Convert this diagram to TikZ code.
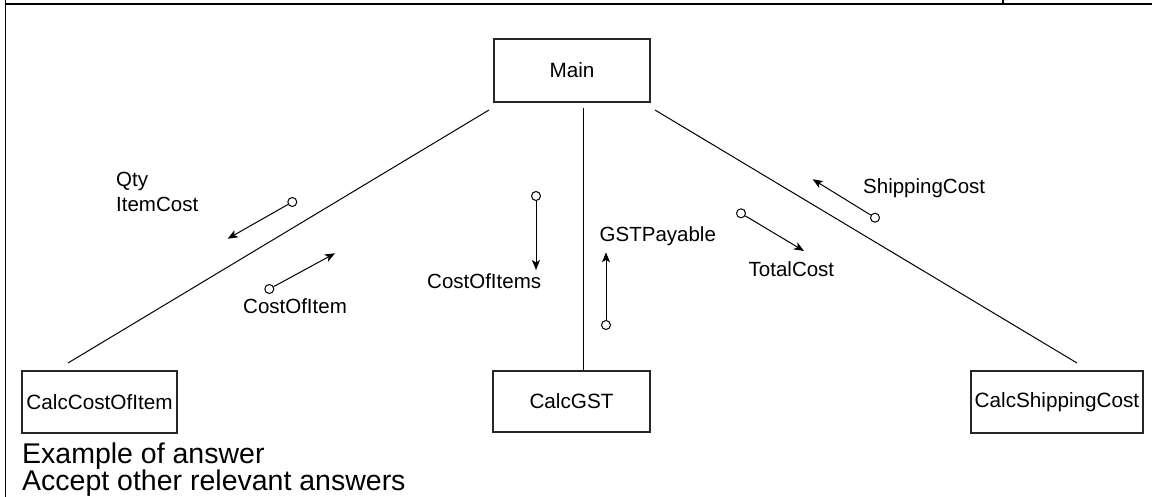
\documentclass[tikz,border=0pt]{standalone}
\usepackage{fontspec}
\setmainfont{Liberation Sans}
\usetikzlibrary{arrows.meta}
\begin{document}
\begin{tikzpicture}[x=1pt,y=-1pt,
  txt/.style={font=\fontsize{20.5}{24.5}\selectfont, inner sep=0pt},
  modbox/.style={draw=black!85, line width=1.2pt, inner sep=0pt,
    font=\fontsize{20.7}{24}\selectfont},
  link/.style={line width=1pt, black},
  dot/.style={circle, draw=black, line width=1pt, fill=white,
    minimum size=9pt, inner sep=0pt},
  flow/.style={line width=1pt, -{Stealth[length=10pt,width=8pt,inset=2.5pt]}},
  caption/.style={font=\fontsize{28.5}{30}\selectfont, inner sep=0pt},
  frame/.style={line width=1.6pt, black}]
\useasboundingbox (0,0) rectangle (1152,497);

% table cell rules
\draw[frame] (5.5,4) -- (1152,4);
\draw[frame] (5.5,0) -- (5.5,497);
\draw[frame] (1003,0) -- (1003,4);

% modules
\node[modbox, minimum width=156pt, minimum height=63pt] (main) at (572,70.5) {Main};
\node[modbox, minimum width=155pt, minimum height=62pt] (cci) at (99.5,402) {CalcCostOfItem};
\node[modbox, minimum width=157pt, minimum height=61pt] (gst) at (571.5,401.5) {CalcGST};
\node[modbox, minimum width=172pt, minimum height=62pt] (csc) at (1057,402) {CalcShippingCost};

% call lines
\coordinate (mL) at (489,110);
\coordinate (cL) at (68,363);
\coordinate (mM) at (583,108);
\coordinate (cM) at (583,370.5);
\coordinate (mR) at (655,110);
\coordinate (cR) at (1077,363);
\draw[link] (mL) -- (cL);
\draw[link] (mM) -- (cM);
\draw[link] (mR) -- (cR);

% data couples
\node[dot] (d1) at (292.3,202) {};
\coordinate (t1) at (227.7,238.7);
\draw[flow] (d1) -- (t1);
\node[dot] (d2) at (269.3,289) {};
\coordinate (t2) at (335,253.3);
\draw[flow] (d2) -- (t2);
\node[dot] (d3) at (536,196) {};
\coordinate (t3) at (536,270);
\draw[flow] (d3) -- (t3);
\node[dot] (d4) at (606,325) {};
\coordinate (t4) at (606,252.3);
\draw[flow] (d4) -- (t4);
\node[dot] (d5) at (741,213.3) {};
\coordinate (t5) at (804,251);
\draw[flow] (d5) -- (t5);
\node[dot] (d6) at (875,217.7) {};
\coordinate (t6) at (812.7,179.3);
\draw[flow] (d6) -- (t6);

% couple labels
\node[txt, anchor=base west] (l1a) at (116,187) {Qty};
\node[txt, anchor=base west] (l1b) at (116,211.5) {ItemCost};
\node[txt, anchor=base west] (l2) at (243,313) {CostOfItem};
\node[txt, anchor=base west] (l3) at (427,288.3) {CostOfItems};
\node[txt, anchor=base west] (l4) at (599.5,242) {GSTPayable};
\node[txt, anchor=base west] (l5) at (748.5,276.7) {TotalCost};
\node[txt, anchor=base west] (l6) at (863,193.5) {ShippingCost};

% notes
\node[caption, anchor=base west] (n1) at (22,463) {Example of answer};
\node[caption, anchor=base west] (n2) at (22,490) {Accept other relevant answers};
\end{tikzpicture}
\end{document}
